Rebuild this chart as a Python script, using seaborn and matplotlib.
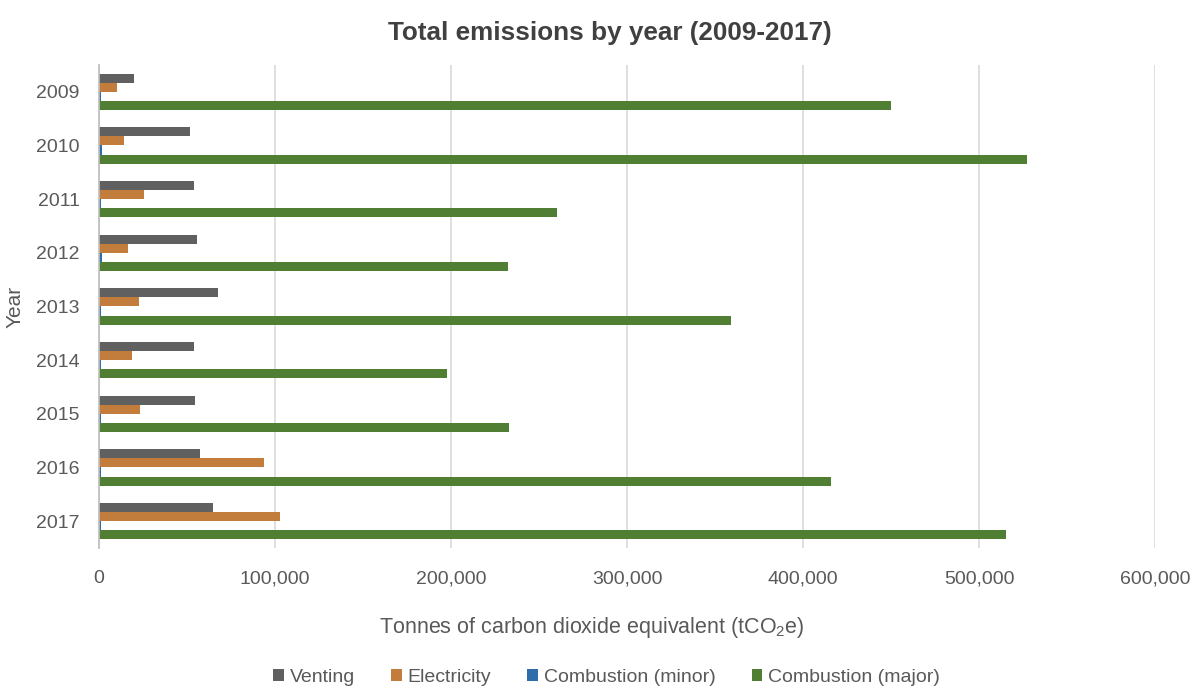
import pandas as pd
import seaborn as sns
import matplotlib.pyplot as plt
from matplotlib.ticker import FuncFormatter

# ----------------------------------------------------------------------------------------------------------------------
# Data (tCO2e)
years = ["2009", "2010", "2011", "2012", "2013", "2014", "2015", "2016", "2017"]
venting = [20000, 51500, 54000, 55500, 67500, 54000, 54500, 57500, 65000]
electricity = [10000, 14000, 25500, 16500, 22500, 19000, 23500, 94000, 103000]
combustion_minor = [1200, 1500, 1200, 1500, 1200, 1000, 1200, 1200, 1200]
combustion_major = [450000, 527000, 260000, 232500, 359000, 197500, 233000, 416000, 515500]

sources = ["Venting", "Electricity", "Combustion (minor)", "Combustion (major)"]
colours = ["#606060", "#C27C3C", "#2F6DAA", "#507E32"]
# ----------------------------------------------------------------------------------------------------------------------

sns.set_theme(style="white")
plt.rcParams["font.family"] = ["Liberation Sans", "DejaVu Sans"]
plt.rcParams["mathtext.fontset"] = "custom"
plt.rcParams["mathtext.rm"] = "Liberation Sans"

# Long-form table for seaborn
df = pd.DataFrame({
    "Year": years * 4,
    "Source": [s for s in sources for _ in years],
    "Emissions": venting + electricity + combustion_minor + combustion_major,
})

fig = plt.figure(figsize=(11.99, 6.91), dpi=100)
ax = fig.add_axes([0.0826, 0.207, 0.8807, 0.699])

sns.barplot(data=df, x="Emissions", y="Year", hue="Source", hue_order=sources,
            palette=colours, orient="h", width=0.68, saturation=1, linewidth=0, ax=ax, legend=True)

# Axis styling | Excel look
text_col = "#595959"
ax.set_xlim(0, 600000)
ax.set_xticks(range(0, 600001, 100000))
ax.xaxis.set_major_formatter(FuncFormatter(lambda v, p: f"{int(v):,}"))
ax.grid(axis="x", color="#D9D9D9", linewidth=1.2)
ax.set_axisbelow(True)
for side in ["top", "right", "bottom"]:
    ax.spines[side].set_visible(False)
ax.spines["left"].set_color("#BFBFBF")
ax.tick_params(axis="both", colors=text_col, labelsize=14, length=0)
ax.tick_params(axis="x", pad=16)
ax.tick_params(axis="y", pad=14)

ax.set_xlabel("Tonnes of carbon dioxide equivalent (tCO$_2$e)", color=text_col, fontsize=15.5)
ax.xaxis.set_label_coords(0.467, -0.139)
ax.set_ylabel("Year", color=text_col, fontsize=15, labelpad=8)

fig.suptitle("Total emissions by year (2009-2017)", x=0.509, y=0.97, fontsize=18.8,
             fontweight="bold", color="#404040")

# Legend along the bottom
handles, labels = ax.get_legend_handles_labels()
ax.legend_.remove()
fig.legend(handles, labels, loc="center", bbox_to_anchor=(0.506, 0.02), ncol=4, frameon=False,
           fontsize=14, labelcolor=text_col, handlelength=0.55, handleheight=0.55,
           handletextpad=0.3, columnspacing=1.85)

fig.savefig("out.png", dpi=100)
